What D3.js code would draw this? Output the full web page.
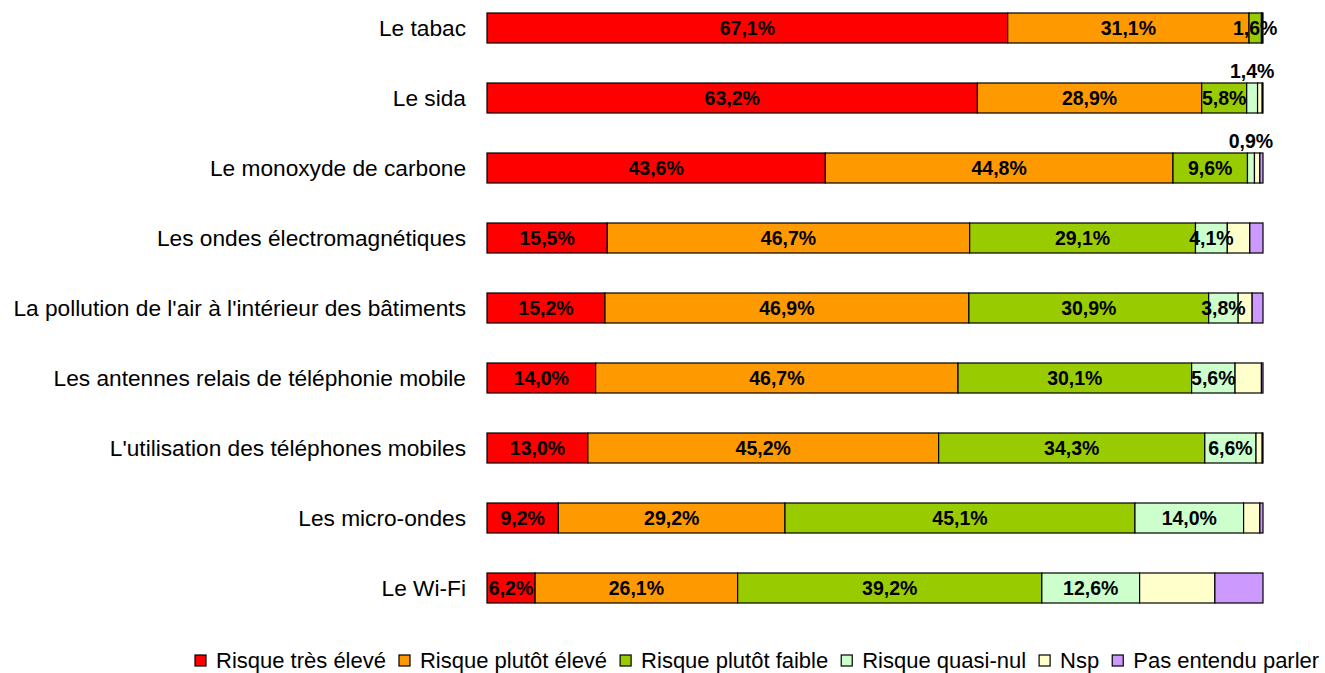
<!DOCTYPE html>
<html>
<head>
<meta charset="utf-8">
<script src="https://cdn.jsdelivr.net/npm/d3@7"></script>
<style>
  body { margin: 0; background: #fff; }
  text { font-family: "Liberation Sans", Arial, sans-serif; }
</style>
</head>
<body>
<div id="chart"></div>
<script>
// Categories, top to bottom
const categories = [
  "Le tabac",
  "Le sida",
  "Le monoxyde de carbone",
  "Les ondes électromagnétiques",
  "La pollution de l'air à l'intérieur des bâtiments",
  "Les antennes relais de téléphonie mobile",
  "L'utilisation des téléphones mobiles",
  "Les micro-ondes",
  "Le Wi-Fi"
];

const seriesNames = ["Risque très élevé", "Risque plutôt élevé", "Risque plutôt faible",
                     "Risque quasi-nul", "Nsp", "Pas entendu parler"];
const seriesColors = ["#FF0000", "#FF9900", "#99CC00", "#CCFFCC", "#FFFFCC", "#CC99FF"];

// values per series (same order as categories)
const tresEleve    = [67.1, 63.2, 43.6, 15.5, 15.2, 14.0, 13.0, 9.2, 6.2];
const plutotEleve  = [31.1, 28.9, 44.8, 46.7, 46.9, 46.7, 45.2, 29.2, 26.1];
const plutotFaible = [1.6, 5.8, 9.6, 29.1, 30.9, 30.1, 34.3, 45.1, 39.2];
const quasiNul     = [0.1, 1.4, 0.9, 4.1, 3.8, 5.6, 6.6, 14.0, 12.6];
const nsp          = [0.1, 0.6, 0.7, 2.9, 1.8, 3.4, 0.8, 2.1, 9.7];
const pasEntendu   = [0.0, 0.1, 0.4, 1.7, 1.4, 0.2, 0.1, 0.4, 6.2];

const series = [tresEleve, plutotEleve, plutotFaible, quasiNul, nsp, pasEntendu];
const labelledSeries = 4; // only the first four series carry labels

const width = 1325, height = 673;

const svg = d3.select('#chart')
  .append('svg')
  .attr('width', width)
  .attr('height', height);

const x = d3.scaleLinear()
  .domain([0, 100])
  .range([487, 1263]);

const y = d3.scaleBand()
  .domain(categories)
  .range([-7, 623])
  .paddingInner(40 / 70)
  .paddingOuter(20 / 70);

const fmt = v => v.toFixed(1).replace('.', ',') + '%';

// stack each row
const rows = categories.map((c, i) => {
  let acc = 0;
  return series.map((s, k) => {
    const seg = { cat: c, k: k, v: s[i], x0: acc, x1: acc + s[i] };
    acc += s[i];
    return seg;
  });
});

const g = svg.append('g');

rows.forEach(row => {
  g.selectAll(null)
    .data(row.filter(d => d.v > 0))
    .enter()
    .append('rect')
    .attr('x', d => x(d.x0))
    .attr('y', d => y(d.cat))
    .attr('width', d => x(d.x1) - x(d.x0))
    .attr('height', y.bandwidth())
    .attr('fill', d => seriesColors[d.k])
    .attr('stroke', '#000')
    .attr('stroke-width', 1.2);

  g.selectAll(null)
    .data(row.filter(d => d.k < labelledSeries && d.v >= 0.5))
    .enter()
    .append('text')
    .attr('x', d => (x(d.x0) + x(d.x1)) / 2)
    .attr('y', d => {
      // tiny quasi-nul segments get their label above the bar
      if (d.k === 3 && d.v < 2) return y(d.cat) - 5;
      return y(d.cat) + y.bandwidth() / 2 + 7;
    })
    .attr('text-anchor', 'middle')
    .attr('font-size', '19.5px')
    .attr('font-weight', 'bold')
    .attr('fill', '#000')
    .text(d => fmt(d.v));
});

// category axis
const yAxis = d3.axisLeft(y).tickSize(0).tickPadding(0);
const ax = svg.append('g')
  .attr('transform', 'translate(466,0)')
  .call(yAxis);
ax.select('.domain').remove();
ax.selectAll('text')
  .attr('dy', null)
  .attr('y', 8)
  .attr('font-size', '22.7px')
  .attr('font-family', '"Liberation Sans", Arial, sans-serif')
  .attr('fill', '#000');

// legend
const legend = svg.append('g').attr('transform', 'translate(0,655)');
const items = legend.selectAll('g')
  .data(seriesNames)
  .enter()
  .append('g');

let cursor = 195;
items.each(function(name, i) {
  const it = d3.select(this);
  it.append('rect')
    .attr('x', cursor)
    .attr('y', 0)
    .attr('width', 11)
    .attr('height', 11)
    .attr('fill', seriesColors[i])
    .attr('stroke', '#000')
    .attr('stroke-width', 1.2);
  const t = it.append('text')
    .attr('x', cursor + 21)
    .attr('y', 13)
    .attr('font-size', '22px')
    .attr('fill', '#000')
    .text(name);
  cursor += 21 + t.node().getComputedTextLength() + 13;
});
</script>
</body>
</html>
